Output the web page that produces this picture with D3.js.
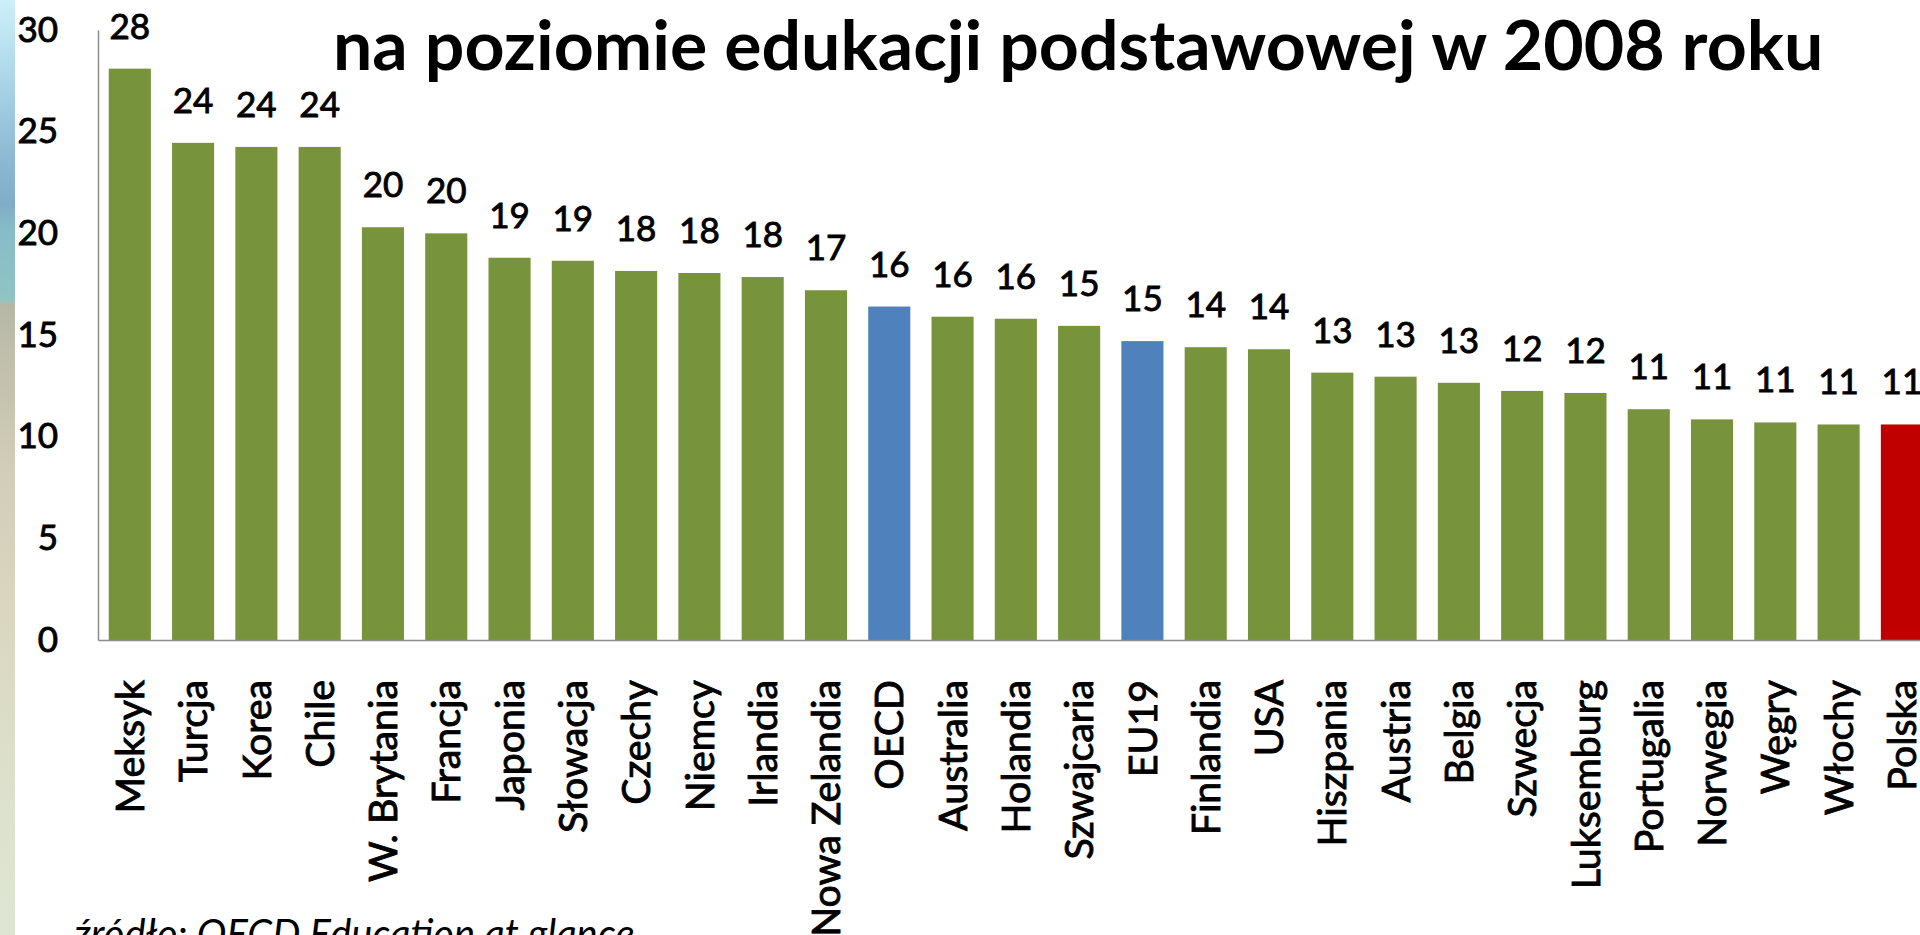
<!DOCTYPE html>
<html>
<head>
<meta charset="utf-8">
<script src="https://cdn.jsdelivr.net/npm/d3@7/dist/d3.min.js"></script>
<style>
  html, body { margin: 0; padding: 0; background: #ffffff; overflow: hidden; }
  svg { display: block; }
  text { font-family: Lato, "Open Sans", sans-serif; fill: #000; }
  .heavy { stroke: #000; stroke-width: 0.9px; paint-order: stroke; }
</style>
</head>
<body>
<svg id="chart" width="1920" height="935"></svg>
<script>
// ---- data ----
const categories = ["Meksyk","Turcja","Korea","Chile","W. Brytania","Francja","Japonia","Słowacja","Czechy","Niemcy","Irlandia","Nowa Zelandia","OECD","Australia","Holandia","Szwajcaria","EU19","Finlandia","USA","Hiszpania","Austria","Belgia","Szwecja","Luksemburg","Portugalia","Norwegia","Węgry","Włochy","Polska"];
const values = [28.1,24.45,24.25,24.25,20.3,20.0,18.8,18.65,18.15,18.05,17.85,17.2,16.4,15.9,15.8,15.45,14.7,14.4,14.3,13.15,12.95,12.65,12.25,12.15,11.35,10.85,10.7,10.6,10.6];
const groups = ["kraj","kraj","kraj","kraj","kraj","kraj","kraj","kraj","kraj","kraj","kraj","kraj","średnia","kraj","kraj","kraj","średnia","kraj","kraj","kraj","kraj","kraj","kraj","kraj","kraj","kraj","kraj","kraj","polska"];
const yTicks = [0,5,10,15,20,25,30];
const titleText = "na poziomie edukacji podstawowej w 2008 roku";
const sourceText = "źródło: OECD Education at glance";

const colorOf = { "kraj": "#77933c", "średnia": "#4f81bd", "polska": "#c00000" };

const svg = d3.select("#chart");

// left decorative strip (slide background edge)
const defs = svg.append("defs");
const grad = defs.append("linearGradient").attr("id","strip").attr("x1",0).attr("y1",0).attr("x2",0).attr("y2",1);
[[0,"#cdeff8"],[0.05,"#b8e2f0"],[0.16,"#8fbcd4"],[0.22,"#7fadc6"],[0.245,"#86bcc8"],[0.32,"#90c4c2"],[0.326,"#b6b8a6"],[0.5,"#d2cdb8"],[0.65,"#dad6c0"],[0.8,"#dcdfca"],[1,"#dee6d3"]]
  .forEach(([o,c]) => grad.append("stop").attr("offset",o).attr("stop-color",c));
svg.append("rect").attr("x",0).attr("y",0).attr("width",15).attr("height",935).attr("fill","url(#strip)");

// scales
const x = d3.scaleBand().domain(categories).range([98, 98 + 29*63.3]).paddingInner(0.335).paddingOuter(0.17);
const y = d3.scaleLinear().domain([0,30]).range([640, 30]);

// bars
svg.append("g").selectAll("rect").data(categories).join("rect")
  .attr("x", d => x(d))
  .attr("y", (d,i) => y(values[i]))
  .attr("width", x.bandwidth())
  .attr("height", (d,i) => y(0) - y(values[i]))
  .attr("fill", (d,i) => colorOf[groups[i]]);

// y axis
const yAxis = svg.append("g").attr("transform","translate(98,0)")
  .call(d3.axisLeft(y).tickValues(yTicks).tickSize(0).tickPadding(40).tickFormat(d3.format("d")));
yAxis.select(".domain").attr("stroke","#8c8c8c").attr("stroke-width",1.5);
yAxis.selectAll("text").attr("class","heavy").style("font-size","35px").style("font-family","Lato").attr("fill","#000");

// x axis baseline + labels
const xAxis = svg.append("g").attr("transform","translate(0,640)")
  .call(d3.axisBottom(x).tickSize(0).tickSizeOuter(0));
xAxis.select(".domain").attr("stroke","#8c8c8c").attr("stroke-width",1.5);
const catLabels = xAxis.selectAll(".tick text")
  .attr("class","heavy")
  .style("font-family","Lato")
  .style("font-size","36px")
  .attr("fill","#000")
  .attr("text-anchor","end")
  .attr("transform","translate(0,40) rotate(-90)")
  .attr("x",0).attr("y",0).attr("dy","0.36em");

// fit category font to reference length of "W. Brytania" (~202px)
(function(){
  const node = catLabels.filter(d => d === "W. Brytania").node();
  const w = node.getComputedTextLength();
  const fs = 36 * 202 / w;
  catLabels.style("font-size", fs.toFixed(1) + "px");
})();

// value labels
const fmt = d3.format(".0f");
svg.append("g").selectAll("text").data(categories).join("text")
  .attr("class","heavy")
  .attr("x", d => x(d) + x.bandwidth()/2)
  .attr("y", (d,i) => y(values[i]) - 30)
  .attr("text-anchor","middle")
  .style("font-size","35px")
  .text((d,i) => fmt(values[i]));

// title
const title = svg.append("text")
  .attr("x", 333).attr("y", 70)
  .style("font-size","70px").style("font-weight","700")
  .text(titleText);
(function(){
  const w = title.node().getComputedTextLength();
  title.style("font-size", (70 * 1490 / w).toFixed(1) + "px");
})();

// source
const src = svg.append("text")
  .attr("x", 74).attr("y", 948)
  .style("font-size","34px").style("font-style","italic").attr("fill","#222")
  .text(sourceText);
(function(){
  const w = src.node().getComputedTextLength();
  src.style("font-size", (34 * 560 / w).toFixed(1) + "px");
})();
</script>
</body>
</html>
